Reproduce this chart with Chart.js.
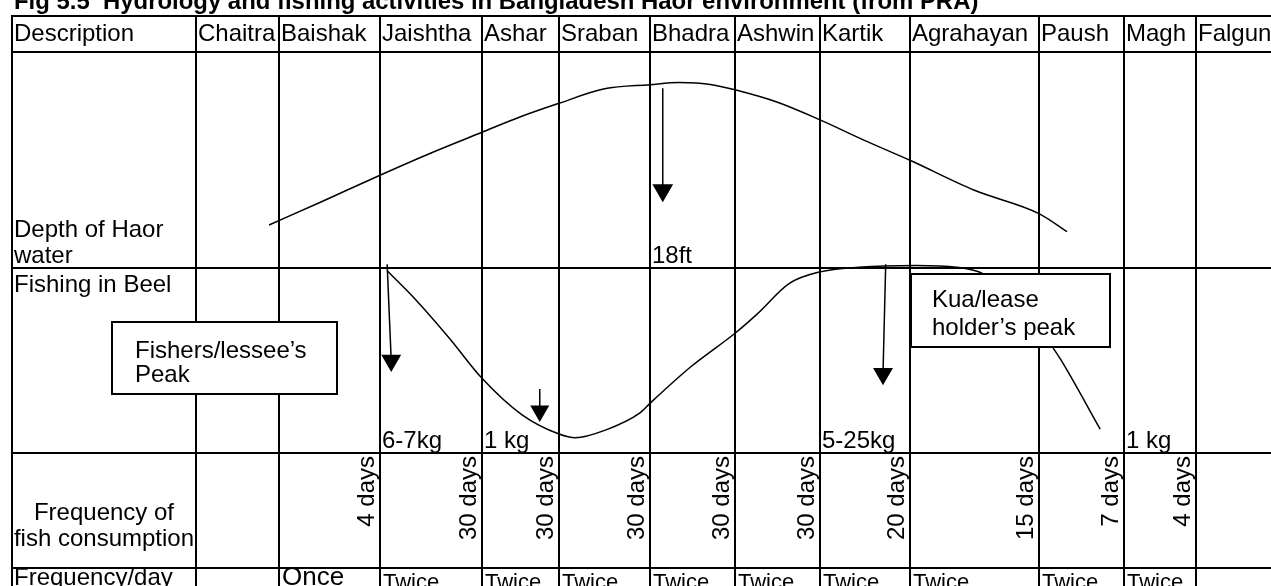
<!DOCTYPE html>
<html><head><meta charset="utf-8">
<script src="https://cdn.jsdelivr.net/npm/chart.js@4.4.1/dist/chart.umd.min.js"></script>
<style>html,body{margin:0;padding:0;background:#fff;overflow:hidden}#wrap{width:1271px;height:586px;position:relative}canvas{display:block}</style>
</head><body><div id="wrap"><canvas id="c" width="1271" height="586"></canvas></div>
<script>
// ---------------- data ----------------
const TITLE = "Fig 5.5  Hydrology and fishing activities in Bangladesh Haor environment (from PRA)";
const HEADER_FIRST = "Description";
const MONTHS = ["Chaitra","Baishak","Jaishtha","Ashar","Sraban","Bhadra","Ashwin","Kartik","Agrahayan","Paush","Magh","Falgun"];
const ROW_DEPTH = ["Depth of Haor","water"];
const ROW_FISHING = "Fishing in Beel";
const ROW_CONSUMPTION = ["Frequency of","fish consumption"];
const ROW_PER_DAY = "Frequency/day";
const CONSUMPTION = ["","4 days","30 days","30 days","30 days","30 days","30 days","20 days","15 days","7 days","4 days",""];
const PER_DAY = ["","Once","Twice","Twice","Twice","Twice","Twice","Twice","Twice","Twice","Twice",""];

// depth of haor water: month position (0 = start of Chaitra) and depth in ft
const DEPTH_MONTH = [0.88, 1.41, 2.0, 2.5, 3.0, 3.5, 4.0, 4.5, 5.0, 5.34, 5.73, 6.0, 6.5, 7.0, 7.5, 8.0, 8.5, 9.0, 9.33];
const DEPTH_FT    = [4.25, 6.45, 9.05, 11.2, 13.2, 14.7, 16.0, 17.4, 17.8, 18.0, 17.8, 17.3, 16.1, 14.4, 12.4, 10.5, 7.6, 5.35, 3.6];
const PEAK_LABEL = "18ft";
const PEAK_MONTH = 5;
const DEPTH_ARROW_MONTH = [5.15, 5.15];
const DEPTH_ARROW_FT = [17.45, 7.6];

// fishing in beel: month position and relative catch level (0-10)
const CATCH_MONTH = [2.07, 2.35, 2.68, 3.0, 3.52, 4.0, 4.18, 4.51, 4.89, 5.0, 5.48, 6.0, 6.26, 6.64, 7.0, 7.43, 8.05, 8.36, 8.57, 8.85, 9.14, 9.26, 9.72];
const CATCH_LEVEL = [9.9, 8.27, 6.1, 3.84, 1.78, 0.70, 0.49, 0.92, 1.89, 2.43, 4.49, 6.38, 7.46, 9.19, 9.84, 10.1, 10.2, 10.1, 9.73, 8.3, 5.73, 4.86, 0.97];
const CATCH_ARROWS = [
  {month:[2.07, 2.11], level:[10.27, 4.85]},
  {month:[3.75, 3.75], level:[3.24, 2.0]},
  {month:[7.73, 7.70], level:[10.27, 4.1]}
];
const CATCH_LABEL_MONTH = [2, 3, 7, 10];
const CATCH_LABELS = ["6-7kg","1 kg","5-25kg","1 kg"];
const CALLOUT_FISHERS = ["Fishers/lessee\u2019s","Peak"];
const CALLOUT_KUA = ["Kua/lease","holder\u2019s peak"];

// ---------------- layout ----------------
const W = 1271, H = 586;
const COL_EDGES = [12, 196, 279, 380, 482, 559, 650, 735, 820, 910, 1039, 1124, 1196, 1300];
const ROW_EDGES = [16, 52, 268, 453, 568, 640];
const DEPTH_TOP_FT = 20;     // ft value at top of depth row
const CATCH_TOP = 10;        // catch level at top of fishing row
const FONT = '"Liberation Sans", Arial, sans-serif';
const FS = 24;
const BOX_FISHERS = {x:112, y:322, w:225, h:72, tx:135, ty:[358, 382]};
const BOX_KUA = {x:911, y:274, w:199, h:73, tx:932, ty:[307, 335]};

class MonthScale extends Chart.LinearScale {
  getPixelForValue(v) {
    const e = COL_EDGES.slice(1);
    const i = Math.max(0, Math.min(11, Math.floor(v)));
    return e[i] + (v - i) * (e[i + 1] - e[i]);
  }
  getValueForPixel(p) {
    const e = COL_EDGES.slice(1);
    for (let i = 0; i < 12; i++) if (p < e[i + 1]) return i + (p - e[i]) / (e[i + 1] - e[i]);
    return 12;
  }
}
MonthScale.id = 'month';
MonthScale.defaults = Chart.LinearScale.defaults;
Chart.register(MonthScale);

function rangeFor(bottomPx, topPx, topVal) {
  const per = (bottomPx - topPx) / topVal;
  return {min: -(H - bottomPx) / per, max: bottomPx / per};
}
const dR = rangeFor(ROW_EDGES[2], ROW_EDGES[1], DEPTH_TOP_FT);
const cR = rangeFor(ROW_EDGES[3], ROW_EDGES[2], CATCH_TOP);

const pts = (xs, ys) => xs.map((x, i) => ({x, y: ys[i]}));
const curve = (data, axis) => ({data, yAxisID: axis, showLine: true, borderColor: '#000', borderWidth: 1.5,
  pointRadius: 0, cubicInterpolationMode: 'monotone', fill: false});
const arrow = (data, axis, r) => ({data, yAxisID: axis, showLine: true, borderColor: '#000', borderWidth: 1.5,
  pointRadius: [0, r], pointStyle: 'triangle', rotation: 180, pointBackgroundColor: '#000', pointBorderWidth: 0, fill: false, tension: 0});

const datasets = [
  curve(pts(DEPTH_MONTH, DEPTH_FT), 'yDepth'),
  arrow(pts(DEPTH_ARROW_MONTH, DEPTH_ARROW_FT), 'yDepth', 12),
  curve(pts(CATCH_MONTH, CATCH_LEVEL), 'yCatch'),
  arrow(pts(CATCH_ARROWS[0].month, CATCH_ARROWS[0].level), 'yCatch', 11.5),
  arrow(pts(CATCH_ARROWS[1].month, CATCH_ARROWS[1].level), 'yCatch', 11),
  arrow(pts(CATCH_ARROWS[2].month, CATCH_ARROWS[2].level), 'yCatch', 11.5)
];

function txt(ctx, s, x, y, size, align, weight) {
  ctx.font = (weight || 'normal') + ' ' + size + 'px ' + FONT;
  ctx.textAlign = align || 'left';
  ctx.textBaseline = 'alphabetic';
  ctx.fillStyle = '#000';
  ctx.fillText(s, x, y);
}

const tablePlugin = {
  id: 'table',
  beforeDraw(chart) {
    const ctx = chart.ctx;
    ctx.save();
    ctx.fillStyle = '#fff';
    ctx.fillRect(0, 0, W, H);
    // title
    ctx.font = 'bold 20px ' + FONT;
    const tw = ctx.measureText(TITLE).width;
    txt(ctx, TITLE, 14, 9, 20 * 965 / tw, 'left', 'bold');
    // grid
    ctx.strokeStyle = '#000';
    ctx.lineWidth = 2;
    ctx.beginPath();
    ROW_EDGES.forEach(y => { ctx.moveTo(COL_EDGES[0] - 1, y); ctx.lineTo(W + 10, y); });
    COL_EDGES.forEach(x => { ctx.moveTo(x, ROW_EDGES[0] - 1); ctx.lineTo(x, H + 10); });
    ctx.stroke();
    // header
    txt(ctx, HEADER_FIRST, COL_EDGES[0] + 2, 41, FS);
    MONTHS.forEach((m, i) => txt(ctx, m, COL_EDGES[i + 1] + 2, 41, FS));
    // row labels
    txt(ctx, ROW_DEPTH[0], COL_EDGES[0] + 2, 237, FS);
    txt(ctx, ROW_DEPTH[1], COL_EDGES[0] + 2, 263, FS);
    txt(ctx, PEAK_LABEL, COL_EDGES[PEAK_MONTH + 1] + 2, 263, FS);
    txt(ctx, ROW_FISHING, COL_EDGES[0] + 2, 292, FS);
    CATCH_LABELS.forEach((s, i) => txt(ctx, s, COL_EDGES[CATCH_LABEL_MONTH[i] + 1] + 2, 448, FS));
    const cx = (COL_EDGES[0] + COL_EDGES[1]) / 2;
    txt(ctx, ROW_CONSUMPTION[0], cx, 520, FS, 'center');
    txt(ctx, ROW_CONSUMPTION[1], cx, 546, FS, 'center');
    CONSUMPTION.forEach((s, i) => {
      if (!s) return;
      ctx.save();
      ctx.translate(COL_EDGES[i + 2] - 6, ROW_EDGES[3] + 3);
      ctx.rotate(-Math.PI / 2);
      txt(ctx, s, 0, 0, FS, 'right');
      ctx.restore();
    });
    txt(ctx, ROW_PER_DAY, COL_EDGES[0] + 2, 585, FS);
    PER_DAY.forEach((s, i) => {
      if (!s) return;
      if (s === 'Once') txt(ctx, s, COL_EDGES[i + 1] + 3, 585, 26);
      else txt(ctx, s, COL_EDGES[i + 1] + 3, 589, 22);
    });
    ctx.restore();
  },
  afterDatasetsDraw(chart) {
    const ctx = chart.ctx;
    ctx.save();
    [[BOX_FISHERS, CALLOUT_FISHERS], [BOX_KUA, CALLOUT_KUA]].forEach(([b, lines]) => {
      ctx.fillStyle = '#fff';
      ctx.fillRect(b.x, b.y, b.w, b.h);
      ctx.strokeStyle = '#000';
      ctx.lineWidth = 2;
      ctx.strokeRect(b.x, b.y, b.w, b.h);
      lines.forEach((s, i) => txt(ctx, s, b.tx, b.ty[i], FS));
    });
    ctx.restore();
  }
};

new Chart(document.getElementById('c'), {
  type: 'scatter',
  data: {datasets},
  options: {
    responsive: false, animation: false, devicePixelRatio: 1,
    layout: {padding: 0},
    plugins: {legend: {display: false}, tooltip: {enabled: false}},
    scales: {
      x: {type: 'month', min: 0, max: 12, display: false},
      yDepth: {type: 'linear', position: 'left', min: dR.min, max: dR.max, display: false},
      yCatch: {type: 'linear', position: 'left', min: cR.min, max: cR.max, display: false}
    }
  },
  plugins: [tablePlugin]
});
</script></body></html>
